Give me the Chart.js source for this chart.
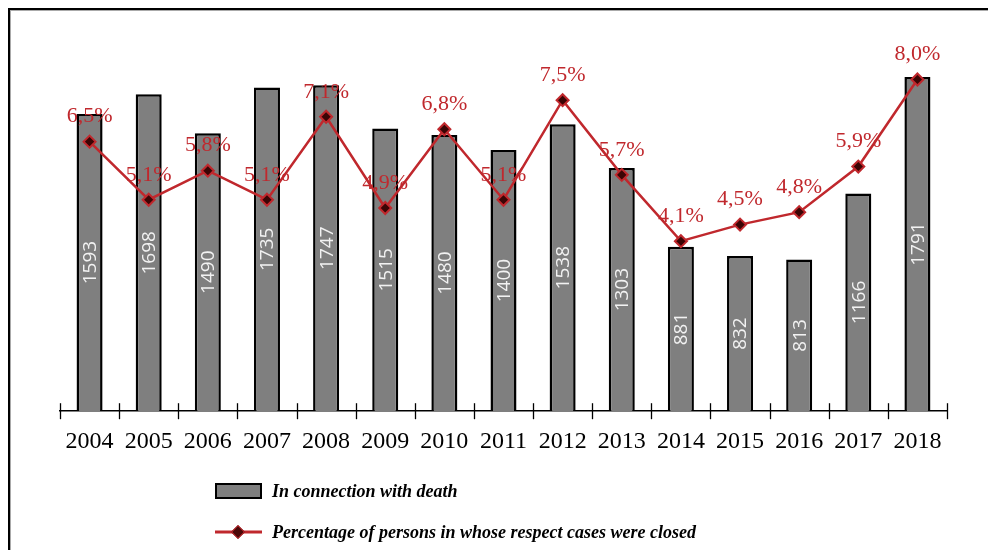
<!DOCTYPE html>
<html>
<head>
<meta charset="utf-8">
<script src="https://cdn.jsdelivr.net/npm/chart.js@4.4.1/dist/chart.umd.min.js"></script>
<style>
  html, body { margin: 0; padding: 0; background: #fff; }
  #wrap { position: relative; width: 988px; height: 550px; overflow: hidden; background: #fff; }
  #frame { position: absolute; left: 8px; top: 8px; right: -10px; bottom: -10px;
           border-left: 2px solid #000; border-top: 2px solid #000; box-shadow: inset 1px 1px 0 #aaa; }
  #chartBox { position: absolute; left: 0; top: 0; width: 988px; height: 550px; }
  .leg { position: absolute; left: 215px; font-family: 'Liberation Serif', 'Times New Roman', serif;
         font-style: italic; font-weight: bold; font-size: 18px; color: #000; white-space: nowrap; }
  .leg .txt { position: absolute; left: 57px; top: 0; transform: translateY(-50%); }
  .swatch { position: absolute; left: 0; width: 43px; height: 12px; background: #7f7f7f; border: 2.5px solid #000; transform: translateY(-50%); }
  .lline { position: absolute; left: 0; width: 47px; height: 3px; background: #c0282d; transform: translateY(-50%); }
  .ldia { position: absolute; left: 18px; width: 8px; height: 8px; background: #4a0808; border: 1.5px solid #c0282d;
          transform: translateY(-50%) rotate(45deg); }
</style>
</head>
<body>
<div id="wrap">
  <div id="frame"></div>
  <div id="chartBox"><canvas id="c"></canvas></div>
  <div class="leg" style="top:491px;"><div class="swatch" style="top:0"></div><span class="txt">In connection with death</span></div>
  <div class="leg" style="top:532px;"><div class="lline" style="top:0"></div><div class="ldia" style="top:0"></div><span class="txt">Percentage of persons in whose respect cases were closed</span></div>
</div>
<script>
const years = ['2004','2005','2006','2007','2008','2009','2010','2011','2012','2013','2014','2015','2016','2017','2018'];
const deathCases = [1593, 1698, 1490, 1735, 1747, 1515, 1480, 1400, 1538, 1303, 881, 832, 813, 1166, 1791];
const closedPercent = [6.5, 5.1, 5.8, 5.1, 7.1, 4.9, 6.8, 5.1, 7.5, 5.7, 4.1, 4.5, 4.8, 5.9, 8.0];

const RED = '#c0282d';

const labelPlugin = {
  id: 'labels',
  afterDatasetsDraw(chart) {
    const ctx = chart.ctx;
    const barMeta = chart.getDatasetMeta(1);
    ctx.save();
    ctx.fillStyle = '#f2f2f2';
    ctx.font = "19px 'Open Sans', 'DejaVu Sans', sans-serif";
    ctx.textAlign = 'center';
    ctx.textBaseline = 'middle';
    barMeta.data.forEach((el, i) => {
      const cy = (el.y + el.base) / 2;
      ctx.save();
      ctx.translate(el.x, cy);
      ctx.rotate(-Math.PI / 2);
      ctx.fillText(String(deathCases[i]), 0, 1);
      ctx.restore();
    });
    ctx.restore();
    const lineMeta = chart.getDatasetMeta(0);
    ctx.save();
    ctx.fillStyle = RED;
    ctx.font = "22px 'Liberation Serif', 'Times New Roman', serif";
    ctx.textAlign = 'center';
    ctx.textBaseline = 'middle';
    lineMeta.data.forEach((el, i) => {
      ctx.fillText(closedPercent[i].toFixed(1).replace('.', ',') + '%', el.x, el.y - 25);
    });
    ctx.restore();
  },
  afterDraw(chart) {
    const ctx = chart.ctx;
    const xs = chart.scales.x;
    const n = years.length;
    const step = xs.width / n;
    const y = chart.chartArea.bottom;
    ctx.save();
    ctx.strokeStyle = '#000';
    ctx.lineWidth = 1.3;
    for (let i = 0; i <= n; i++) {
      const x = Math.round(xs.left + i * step) + 0.5;
      ctx.beginPath();
      ctx.moveTo(x, y - 8);
      ctx.lineTo(x, y + 8);
      ctx.stroke();
    }
    ctx.restore();
  }
};

new Chart(document.getElementById('c'), {
  type: 'bar',
  data: {
    labels: years,
    datasets: [
      {
        type: 'line',
        label: 'Percentage of persons in whose respect cases were closed',
        data: closedPercent,
        yAxisID: 'y1',
        borderColor: RED,
        borderWidth: 2.5,
        pointStyle: 'rectRot',
        pointRadius: 6,
        pointBackgroundColor: '#3a0505',
        pointBorderColor: RED,
        pointBorderWidth: 2,
        tension: 0,
        order: 0
      },
      {
        type: 'bar',
        label: 'In connection with death',
        data: deathCases,
        yAxisID: 'y',
        backgroundColor: '#7f7f7f',
        borderColor: '#000',
        borderWidth: 2.5,
        borderSkipped: 'bottom',
        barPercentage: 0.44,
        categoryPercentage: 1,
        order: 1
      }
    ]
  },
  options: {
    responsive: true,
    maintainAspectRatio: false,
    animation: false,
    layout: { padding: { left: 60, right: 41, top: 38, bottom: 86 } },
    plugins: { legend: { display: false }, tooltip: { enabled: false } },
    scales: {
      x: {
        offset: true,
        grid: { display: false },
        border: { display: true, color: '#000', width: 1.5 },
        ticks: {
          color: '#000',
          padding: 8,
          maxRotation: 0,
          autoSkip: false,
          font: { family: "'Liberation Serif', 'Times New Roman', serif", size: 24 }
        }
      },
      y: { display: false, min: 0, max: 2000 },
      y1: { display: false, min: 0, max: 9 }
    }
  },
  plugins: [labelPlugin]
});
</script>
</body>
</html>
